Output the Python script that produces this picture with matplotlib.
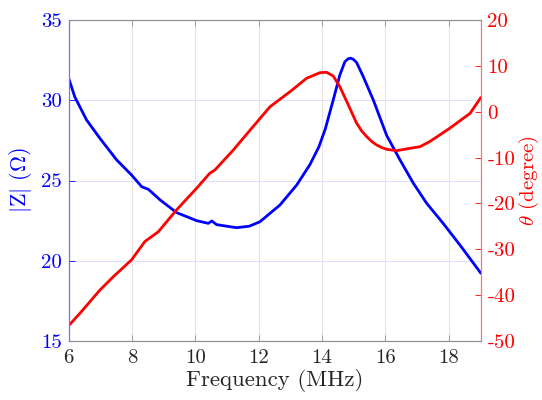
import matplotlib
matplotlib.use("Agg")
import matplotlib.pyplot as plt

plt.rcParams["font.family"] = "serif"
plt.rcParams["font.serif"] = ["cmr10", "DejaVu Serif"]
plt.rcParams["mathtext.fontset"] = "cm"
plt.rcParams["axes.unicode_minus"] = False
plt.rcParams["axes.formatter.use_mathtext"] = False

# Impedance magnitude |Z| vs frequency
freq_z = [6.0, 6.2, 6.57, 6.99, 7.52, 7.99, 8.31, 8.52, 8.89, 9.41, 10.04, 10.41,
          10.52, 10.67, 11.3, 11.7, 12.04, 12.36, 12.67, 13.2, 13.62, 13.9, 14.10,
          14.35, 14.56, 14.72, 14.82, 14.90, 14.98, 15.09, 15.30, 15.62, 16.04, 16.46,
          16.88, 17.3, 17.82, 18.35, 19.0]
z_mag = [31.4, 30.2, 28.77, 27.63, 26.28, 25.34, 24.61, 24.45, 23.79, 23.0, 22.5, 22.33,
         22.48, 22.25, 22.06, 22.15, 22.43, 22.96, 23.47, 24.72, 26.0, 27.1, 28.2,
         30.0, 31.57, 32.4, 32.58, 32.62, 32.56, 32.35, 31.47, 30.0, 27.8, 26.28,
         24.83, 23.58, 22.33, 20.98, 19.25]

# Phase angle theta vs frequency
freq_p = [6.0, 6.36, 6.99, 7.41, 7.99, 8.41, 8.83, 9.41, 10.04, 10.46, 10.62, 11.2,
          11.73, 12.36, 12.99, 13.51, 13.93, 14.14, 14.35, 14.56, 14.78, 15.09,
          15.25, 15.41, 15.57, 15.72, 15.88, 16.04, 16.35, 16.77, 17.09, 17.4,
          18.03, 18.67, 19.0]
theta = [-46.7, -43.96, -38.9, -36.0, -32.3, -28.3, -26.2, -21.4, -16.7, -13.4, -12.7, -8.35,
         -4.0, 1.1, 4.37, 7.28, 8.51, 8.6, 7.8, 5.46, 2.2, -2.5,
         -4.2, -5.45, -6.5, -7.26, -7.8, -8.2, -8.5, -7.98, -7.63, -6.5,
         -3.6, -0.35, 3.0]

x_ticks = [6, 8, 10, 12, 14, 16, 18]
z_ticks = [15, 20, 25, 30, 35]
theta_ticks = [-50, -40, -30, -20, -10, 0, 10, 20]

blue = "#0000ff"
red = "#ff0000"

fig = plt.figure(figsize=(5.42, 4.0), dpi=100)
ax = fig.add_axes([0.1264, 0.1475, 0.7602, 0.8025])
ax2 = ax.twinx()

ax.plot(freq_z, z_mag, color=blue, lw=2.0, solid_joinstyle="round")
ax2.plot(freq_p, theta, color=red, lw=2.0, solid_joinstyle="round")

ax.set_xlim(6, 19)
ax.set_ylim(15, 35)
ax2.set_ylim(-50, 20)
ax.set_xticks(x_ticks)
ax.set_yticks(z_ticks)
ax2.set_yticks(theta_ticks)

ax.xaxis.grid(True, color="#e4e4e4", lw=0.8)
ax.yaxis.grid(True, color="#dedeff", lw=0.8)
ax.set_axisbelow(True)

ax.tick_params(axis="x", direction="in", top=True, length=4, colors="#909090",
               labelcolor="#262626", labelsize=15, pad=6, width=0.6)
ax.tick_params(axis="y", direction="in", length=4, colors=blue, labelsize=15,
               pad=5, width=0.6)
ax2.tick_params(axis="y", direction="in", length=4, colors=red, labelsize=15,
                pad=5, width=0.6)

for a in (ax, ax2):
    a.spines["top"].set_color("#909090")
    a.spines["bottom"].set_color("#909090")
    a.spines["left"].set_color("#7070ff")
    a.spines["right"].set_color("#ff7070")
    for s in a.spines.values():
        s.set_linewidth(0.8)

ax.set_xlabel("Frequency (MHz)", fontsize=16.5, color="#262626", labelpad=1)
ax.set_ylabel(r"$|\mathrm{Z}|\ (\Omega)$", fontsize=16, color=blue, labelpad=5)
ax2.set_ylabel(r"$\theta$ (degree)", fontsize=15, color=red, labelpad=1)

fig.savefig("out.png", dpi=100)
